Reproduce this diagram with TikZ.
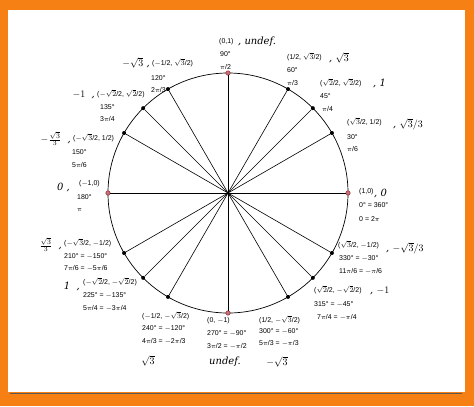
\documentclass[tikz,border=0pt]{standalone}
\usepackage{fontspec}
\setmainfont{Liberation Sans}
\newfontfamily\hand{DejaVu Serif}
\definecolor{frameorange}{RGB}{247,128,20}
\definecolor{ptred}{RGB}{150,20,30}
\newcommand{\rt}[1]{$\sqrt{#1}$}
\begin{document}
\begin{tikzpicture}[x=1bp,y=-1bp]
\tikzset{lbl/.style={anchor=west,font=\fontsize{7}{8}\selectfont,inner sep=0pt},
  hw/.style={font=\hand\itshape\fontsize{10}{11}\selectfont,inner sep=0pt},
  hwr/.style={hw,anchor=west},
  hwl/.style={hw,anchor=east},
  dot/.style={circle,fill=black,inner sep=0pt,minimum size=4bp},
  axdot/.style={circle,draw=ptred,fill=ptred!60,inner sep=0pt,minimum size=4.5bp}}
\useasboundingbox (0,0) rectangle (474,406);
% frame
\fill [frameorange] (0,0) rectangle (474,406);
\fill [white] (8,10) rectangle (465,392);
\draw [gray!70!black,line width=1bp] (10,393) -- (462,393);
% circle and spokes
\coordinate (O) at (228,193);
\draw [black,line width=0.7bp] (O) circle (120);
\foreach \a in {30,45,60,120,135,150,210,225,240,300,315,330}
  \node [dot] (p\a) at ({228+120*cos(\a)},{193-120*sin(\a)}) {};
\foreach \a in {0,90,180,270}
  \node [axdot] (p\a) at ({228+120*cos(\a)},{193-120*sin(\a)}) {};
\foreach \a in {0,30,45,60,90,120,135,150,180,210,225,240,270,300,315,330}
  \draw [line width=0.6bp] (O) -- (p\a);
% quadrant I
\node [lbl] at (359,192) {(1,0)};
\node [hwr] at (374,193) {, 0};
\node [lbl] at (359,205) {0° = 360°};
\node [lbl] at (359,219) {0 = 2$\pi$};
\node [lbl] at (347,122) {(\rt3/2, 1/2)};
\node [hwr] at (393,124) {, $\sqrt{3}/3$};
\node [lbl] at (347,137) {30°};
\node [lbl] at (347,149) {$\pi$/6};
\node [lbl] at (320,83) {(\rt2/2, \rt2/2)};
\node [hwr] at (373,83) {, 1};
\node [lbl] at (320,96) {45°};
\node [lbl] at (322,109) {$\pi$/4};
\node [lbl] at (287,57) {(1/2, \rt3/2)};
\node [hwr] at (329,58) {, $\sqrt{3}$};
\node [lbl] at (287,70) {60°};
\node [lbl] at (287,83) {$\pi$/3};
\node [lbl] at (219,42) {(0,1)};
\node [hwr] at (238,42) {, undef.};
\node [lbl] at (220,54) {90°};
\node [lbl] at (220,67) {$\pi$/2};
% quadrant II
\node [hwl] at (150,63) {$-\sqrt{3}$ ,};
\node [lbl] at (152,63) {($-$1/2, \rt3/2)};
\node [lbl] at (151,78) {120°};
\node [lbl] at (151,90) {2$\pi$/3};
\node [hwl] at (95,95) {$-1$ \ ,};
\node [lbl] at (97,94) {($-$\rt2/2, \rt2/2)};
\node [lbl] at (100,107) {135°};
\node [lbl] at (100,119) {3$\pi$/4};
\node [hwl] at (71,139) {$-\frac{\sqrt{3}}{3}$ \ ,};
\node [lbl] at (73,138) {($-$\rt3/2, 1/2)};
\node [lbl] at (72,152) {150°};
\node [lbl] at (72,165) {5$\pi$/6};
\node [hwl] at (70,187) {0 ,};
\node [lbl] at (79,184) {($-$1,0)};
\node [lbl] at (77,197) {180°};
\node [lbl] at (77,210) {$\pi$};
% quadrant III
\node [hwl] at (62,245) {$\frac{\sqrt{3}}{3}$ \ ,};
\node [lbl] at (64,243) {($-$\rt3/2, $-$1/2)};
\node [lbl] at (64,256) {210° = $-$150°};
\node [lbl] at (64,268) {7$\pi$/6 = $-$5$\pi$/6};
\node [hwl] at (80,286) {1 \ ,};
\node [lbl] at (83,282) {($-$\rt2/2, $-$\rt2/2)};
\node [lbl] at (83,295) {225° = $-$135°};
\node [lbl] at (83,308) {5$\pi$/4 = $-$3$\pi$/4};
\node [lbl] at (142,316) {($-$1/2, $-$\rt3/2)};
\node [lbl] at (142,328) {240° = $-$120°};
\node [lbl] at (142,341) {4$\pi$/3 = $-$2$\pi$/3};
\node [hw] at (148,361) {$\sqrt{3}$};
% quadrant IV
\node [lbl] at (207,321) {(0, $-$1)};
\node [lbl] at (207,333) {270° = $-$90°};
\node [lbl] at (207,346) {3$\pi$/2 = $-$$\pi$/2};
\node [hw] at (225,362) {undef.};
\node [lbl] at (259,320) {(1/2, $-$\rt3/2)};
\node [lbl] at (259,331) {300° = $-$60°};
\node [lbl] at (259,343) {5$\pi$/3 = $-$$\pi$/3};
\node [hw] at (277,362) {$-\sqrt{3}$};
\node [lbl] at (314,290) {(\rt2/2, $-$\rt2/2)};
\node [hwr] at (370,291) {, $-1$};
\node [lbl] at (314,304) {315° = $-$45°};
\node [lbl] at (317,317) {7$\pi$/4 = $-$$\pi$/4};
\node [lbl] at (338,245) {(\rt3/2, $-$1/2)};
\node [hwr] at (386,248) {, $-\sqrt{3}/3$};
\node [lbl] at (339,258) {330° = $-$30°};
\node [lbl] at (339,271) {11$\pi$/6 = $-$$\pi$/6};
\end{tikzpicture}
\end{document}
